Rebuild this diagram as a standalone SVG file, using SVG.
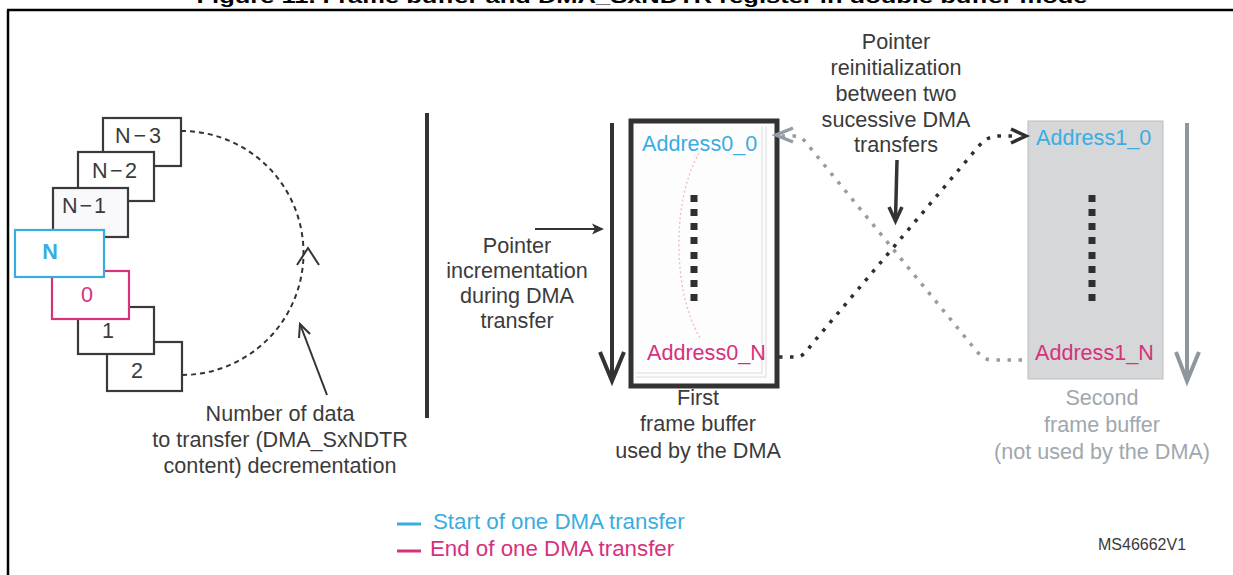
<svg xmlns="http://www.w3.org/2000/svg" width="1233" height="575" viewBox="0 0 1233 575">
<defs>
<style>
.t{font-family:"Liberation Sans",Arial,sans-serif;font-size:21.6px;fill:#3b3b3b}
.c{text-anchor:middle}
.blue{fill:#3aade0}
.pink{fill:#d6317b}
.gt{fill:#a0a7ad}
.lg{font-size:22.3px}
.box{fill:#fff;stroke:#3a3a3a;stroke-width:2.2}
.ln{fill:none;stroke:#333;stroke-width:2}
.sq{fill:#2f2f2f}
</style>
</defs>
<rect width="1233" height="575" fill="#fff"/>
<text x="642" y="3" text-anchor="middle" textLength="891" lengthAdjust="spacingAndGlyphs" style="font-family:'Liberation Sans',Arial,sans-serif;font-size:19px;font-weight:bold;fill:#000">Figure 11. Frame buffer and DMA_SxNDTR register in double buffer mode</text>
<path d="M7,10 H1233 M8,10 V575" fill="none" stroke="#000" stroke-width="2.5"/>

<g id="stack">
<g id="item-n3"><rect class="box" x="103" y="118" width="78" height="48"/><text class="t" x="115" y="143" textLength="46">N−3</text></g>
<g id="item-n2"><rect class="box" x="78" y="152" width="76" height="49"/><text class="t" x="92" y="178" textLength="45">N−2</text></g>
<g id="item-n1"><rect class="box" x="53" y="188" width="75" height="49" style="fill:#f9f9fb"/><text class="t" x="62" y="213" textLength="44">N−1</text></g>
<g id="item-2"><rect class="box" x="107" y="342" width="75" height="49"/><text class="t c" x="137" y="378">2</text></g>
<g id="item-1"><rect class="box" x="78" y="307" width="76" height="47"/><text class="t c" x="108" y="338">1</text></g>
<g id="item-0"><rect class="box" x="52" y="271" width="77" height="48" style="stroke:#d6317b"/><text class="t c pink" x="87" y="302">0</text></g>
<g id="item-n"><rect class="box" x="15" y="230" width="89" height="47" style="stroke:#3aade0"/><text class="t c blue" x="50" y="259" style="font-weight:bold">N</text></g>
</g>

<g id="ndtr-label">
<text class="t c" x="280" y="421">Number of data</text>
<text class="t c" x="280" y="447">to transfer (DMA_SxNDTR</text>
<text class="t c" x="280" y="473">content) decrementation</text>
</g>

<line x1="427" y1="113" x2="427" y2="418" stroke="#333" stroke-width="4"/>

<g id="incr-label">
<text class="t c" x="517" y="253">Pointer</text>
<text class="t c" x="517" y="278">incrementation</text>
<text class="t c" x="517" y="303">during DMA</text>
<text class="t c" x="517" y="328">transfer</text>
</g>

<g id="frame0">
<rect x="631" y="121" width="146" height="265" fill="#fdfdfd" stroke="#333" stroke-width="5"/>
<path d="M762,126 V373 H636 M766,126 V377 H636" fill="none" stroke="#dcdcdc" stroke-width="1"/>
<path d="M699,153 C672,200 672,290 700,338" fill="none" stroke="#f2b6c9" stroke-width="1.3" stroke-dasharray="2 2.5"/>
<g class="sq">
<rect x="690.5" y="195" width="7" height="7"/><rect x="690.5" y="209" width="7" height="7"/><rect x="690.5" y="223" width="7" height="7"/><rect x="690.5" y="237" width="7" height="7"/><rect x="690.5" y="252" width="7" height="7"/><rect x="690.5" y="266" width="7" height="7"/><rect x="690.5" y="280" width="7" height="7"/><rect x="690.5" y="294" width="7" height="7"/>
</g>
<text class="t blue" x="642" y="151">Address0_0</text>
<text class="t pink" x="647" y="360">Address0_N</text>
<text class="t c" x="698" y="405">First</text>
<text class="t c" x="698" y="431">frame buffer</text>
<text class="t c" x="698" y="458">used by the DMA</text>
</g>

<g id="frame1">
<rect x="1028" y="121" width="135" height="258" fill="#d6d7d9" stroke="#bcbec1" stroke-width="1"/>
<g class="sq">
<rect x="1088.5" y="195" width="7" height="7"/><rect x="1088.5" y="209" width="7" height="7"/><rect x="1088.5" y="223" width="7" height="7"/><rect x="1088.5" y="237" width="7" height="7"/><rect x="1088.5" y="252" width="7" height="7"/><rect x="1088.5" y="266" width="7" height="7"/><rect x="1088.5" y="280" width="7" height="7"/><rect x="1088.5" y="294" width="7" height="7"/>
</g>
<text class="t blue" x="1036" y="145">Address1_0</text>
<text class="t pink" x="1035" y="360">Address1_N</text>
<text class="t c gt" x="1102" y="405">Second</text>
<text class="t c gt" x="1102" y="432">frame buffer</text>
<text class="t c gt" x="1102" y="459">(not used by the DMA)</text>
</g>

<g id="reinit-label">
<text class="t c" x="896" y="49">Pointer</text>
<text class="t c" x="896" y="75">reinitialization</text>
<text class="t c" x="896" y="101">between two</text>
<text class="t c" x="896" y="127">sucessive DMA</text>
<text class="t c" x="896" y="152">transfers</text>
</g>

<g id="connectors">
<path class="ln" d="M181,131 A122,122 0 0 1 182,375" stroke-dasharray="5 4"/>
<polyline class="ln" points="297,265 308,248 319,265"/>
<line class="ln" x1="327" y1="395" x2="300" y2="324"/>
<polyline class="ln" points="299,338 300,324 310,334"/>
<line x1="535" y1="229" x2="598" y2="229" stroke="#333" stroke-width="2"/>
<polygon points="604,229 592,223.5 595,229 592,234.5" fill="#333"/>
<line x1="612" y1="123" x2="612" y2="380" stroke="#333" stroke-width="4"/>
<polyline points="600,352 612,381 624,352" fill="none" stroke="#333" stroke-width="4"/>
<line x1="1187" y1="123" x2="1187" y2="380" stroke="#8f979e" stroke-width="4"/>
<polyline points="1176,352 1187,381 1199,352" fill="none" stroke="#8f979e" stroke-width="4"/>
<line x1="897" y1="160" x2="895.5" y2="219" stroke="#333" stroke-width="3.5"/>
<polyline points="889,207 895.5,221 902,207" fill="none" stroke="#333" stroke-width="3.5"/>
<path d="M1022,360 L992,360 C984,360 980,355 974,348 L812,150 C806,142 802,136 794,136 L782,136" fill="none" stroke="#959ca3" stroke-width="3.5" stroke-dasharray="3.5 7.5"/>
<polyline points="793,128 776,135 793,142" fill="none" stroke="#959ca3" stroke-width="3.5"/>
<path d="M779,357 L795,357 C803,357 806,352 812,344 L978,147 C985,139 990,136 1000,136 L1018,136" fill="none" stroke="#2f2f2f" stroke-width="3.5" stroke-dasharray="3.5 7.5"/>
<polyline points="1011,129 1026,136 1011,143" fill="none" stroke="#2f2f2f" stroke-width="3.5"/>
</g>

<g id="legend">
<line x1="397" y1="524" x2="421" y2="524" stroke="#3aade0" stroke-width="3"/>
<text class="t lg blue" x="433" y="529">Start of one DMA transfer</text>
<line x1="397" y1="551" x2="421" y2="551" stroke="#d6317b" stroke-width="3"/>
<text class="t lg pink" x="430" y="556">End of one DMA transfer</text>
</g>
<text x="1098" y="550" style="font-family:'Liberation Sans',Arial,sans-serif;font-size:16px;fill:#3b3b3b">MS46662V1</text>
</svg>
